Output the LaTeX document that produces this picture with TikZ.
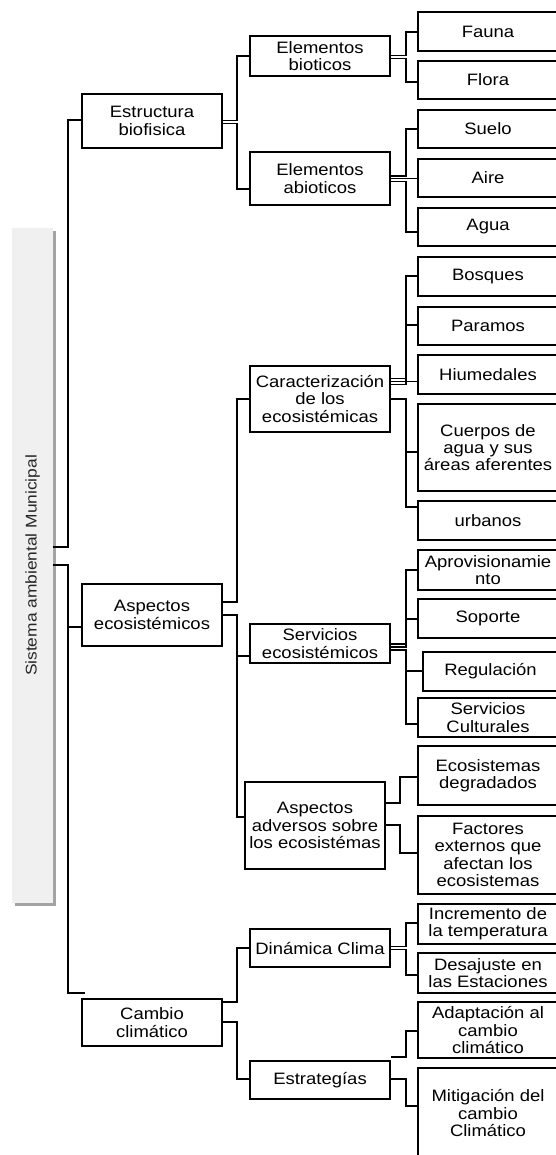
\documentclass[tikz,border=0pt]{standalone}
\usepackage{fontspec}
\setmainfont{Liberation Sans}[FakeStretch=1.12]
\usetikzlibrary{shadows}
\tikzset{
  box/.style={draw, line width=1.9pt, fill=white, inner sep=1pt, align=center,
    font=\fontsize{16.5}{17.3}\selectfont},
  conn/.style={line width=1.9pt},
  rootbox/.style={fill=black!6, draw=none, inner sep=0pt,
    drop shadow={shadow xshift=3pt, shadow yshift=-3pt, fill=black!45, opacity=0.8},
    font=\fontsize{15.5}{17}\selectfont, text=black!85},
}
\newcommand\mybox[6]{\node[box, minimum width={(#4-#2)*1pt}, minimum height={(#5-#3)*1pt}] (#1) at ({(#2+#4)/2},{(#3+#5)/2}) {#6};}
\begin{document}
\begin{tikzpicture}[x=1pt,y=-1pt]
\useasboundingbox (0,0) rectangle (556,1155);
% root
\node[rootbox, minimum width=41pt, minimum height=675pt] (root) at (32.5,565.5) {\rotatebox{90}{Sistema ambiental Municipal}};
% level 1
\mybox{estr}{82}{94}{222}{148}{Estructura\\biofisica}
\mybox{asp}{82}{584}{222}{646}{Aspectos\\ecosistémicos}
\mybox{cam}{82}{999}{222}{1046}{Cambio\\climático}
% level 2
\mybox{bio}{250}{36}{390}{76}{Elementos\\bioticos}
\mybox{abio}{250}{152}{390}{205}{Elementos\\abioticos}
\mybox{car}{250}{366}{390}{432}{Caracterización\\de los\\ecosistémicas}
\mybox{ser}{250}{624}{390}{663}{Servicios\\ecosistémicos}
\mybox{adv}{245}{782}{385}{869}{Aspectos\\adversos sobre\\los ecosistémas}
\mybox{din}{250}{929}{390}{967}{Dinámica Clima}
\mybox{est}{250}{1061}{390}{1099}{Estrategías}
% level 3
\mybox{fauna}{418}{12}{558}{51}{Fauna}
\mybox{flora}{418}{61}{558}{99}{Flora}
\mybox{suelo}{418}{110}{558}{148}{Suelo}
\mybox{aire}{418}{159}{558}{197}{Aire}
\mybox{agua}{418}{208}{558}{246}{Agua}
\mybox{bosq}{418}{257}{558}{296}{Bosques}
\mybox{par}{418}{307}{558}{345}{Paramos}
\mybox{hium}{418}{355}{558}{394}{Hiumedales}
\mybox{cuer}{418}{404}{558}{491}{Cuerpos de\\agua y sus\\áreas aferentes}
\mybox{urb}{418}{501}{558}{540}{urbanos}
\mybox{apr}{418}{550}{558}{590}{Aprovisionamie\\nto}
\mybox{sop}{418}{599}{558}{638}{Soporte}
\mybox{reg}{423}{652}{558}{691}{Regulación}
\mybox{cult}{418}{698}{558}{737}{Servicios\\Culturales}
\mybox{deg}{418}{746}{558}{805}{Ecosistemas\\degradados}
\mybox{fac}{418}{816}{558}{894}{Factores\\externos que\\afectan los\\ecosistemas}
\mybox{inc}{418}{904}{558}{944}{Incremento de\\la temperatura}
\mybox{des}{418}{953}{558}{993}{Desajuste en\\las Estaciones}
\mybox{ada}{418}{1002}{558}{1058}{Adaptación al\\cambio\\climático}
\mybox{mit}{418}{1068}{558}{1158}{Mitigación del\\cambio\\Climático}
\coordinate (cend) at (85,993);
% root connectors
\draw[conn] (root.east |- 0,547) -- (68,547) |- (estr.west |- 0,120);
\draw[conn] (root.east |- 0,565) -- (68,565) |- (cend);
\draw[conn] (68,627) -- (asp.west |- 0,627);
% level 1 connectors
\draw[conn] (estr.east |- 0,120.5) -- (237,120.5) |- (bio.west);
\draw[conn] (estr.east |- 0,123.5) -- (237,123.5) |- (abio.west |- 0,189);
\draw[conn] (asp.east |- 0,602) -- (237,602) |- (car.west);
\draw[conn] (asp.east |- 0,615) -- (237,615) |- (adv.west |- 0,817);
\draw[conn] (237,656) -- (ser.west |- 0,656);
\draw[conn] (cam.east |- 0,1002) -- (237,1002) |- (din.west);
\draw[conn] (cam.east |- 0,1022) -- (237,1022) |- (est.west |- 0,1079);
% level 2 connectors
\draw[conn] (bio.east |- 0,55.5) -- (406,55.5) |- (fauna.west |- 0,32);
\draw[conn] (bio.east |- 0,58.5) -- (406,58.5) |- (flora.west |- 0,82);
\draw[conn] (abio.east |- 0,176) -- (406,176) |- (suelo.west);
\draw[conn] (abio.east |- 0,178.5) -- (aire.west |- 0,178.5);
\draw[conn] (abio.east |- 0,181.5) -- (406,181.5) |- (agua.west |- 0,232);
\draw[conn] (car.east |- 0,378.5) -- (406,378.5) |- (bosq.west |- 0,276);
\draw[conn] (car.east |- 0,381.5) -- (hium.west |- 0,381.5);
\draw[conn] (car.east |- 0,384.5) -- (406,384.5) |- (par.west |- 0,325);
\draw[conn] (car.east |- 0,399) -- (406,399) |- (urb.west |- 0,507);
\draw[conn] (406,452) -- (cuer.west |- 0,452);
\draw[conn] (ser.east |- 0,644) -- (406,644) |- (apr.west |- 0,570);
\draw[conn] (ser.east |- 0,647) -- (406,647) |- (sop.west |- 0,619);
\draw[conn] (ser.east |- 0,650) -- (406,650) |- (cult.west |- 0,724);
\draw[conn] (406,671) -- (reg.west |- 0,671);
\draw[conn] (adv.east |- 0,803) -- (400,803) |- (deg.west |- 0,777);
\draw[conn] (adv.east |- 0,825) -- (400,825) |- (fac.west |- 0,853);
\draw[conn] (din.east |- 0,946.5) -- (406,946.5) |- (inc.west |- 0,923);
\draw[conn] (din.east |- 0,949.5) -- (406,949.5) |- (des.west |- 0,975);
\draw[conn] (est.east |- 0,1057) -- (406,1057) |- (ada.west |- 0,1031);
\draw[conn] (est.east |- 0,1079) -- (406,1079) |- (mit.west |- 0,1106);
\end{tikzpicture}
\end{document}
